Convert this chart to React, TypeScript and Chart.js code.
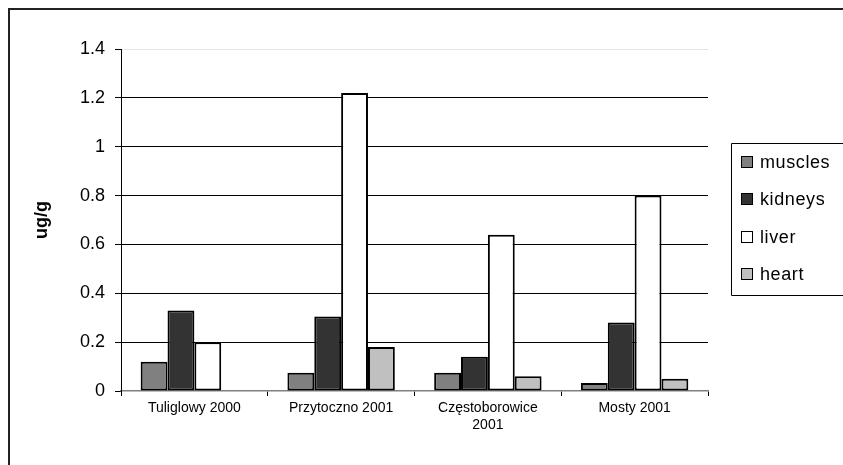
import React, { useEffect, useRef } from "react";
import { Chart, registerables } from "chart.js";

Chart.register(...registerables);

// Sampling sites
const sites: (string | string[])[] = [
  "Tuliglowy 2000",
  "Przytoczno 2001",
  ["Częstoborowice", "2001"],
  "Mosty 2001",
];

// Concentrations per tissue, ug/g
const muscles = [0.12, 0.075, 0.075, 0.033];
const kidneys = [0.33, 0.305, 0.14, 0.28];
const liver = [0.2, 1.22, 0.64, 0.8];
const heart: (number | null)[] = [null, 0.18, 0.06, 0.05];

const seriesNames = ["muscles", "kidneys", "liver", "heart"];
const seriesColors = ["#808080", "#333333", "#ffffff", "#c0c0c0"];

const yTickLabels = ["0", "0.2", "0.4", "0.6", "0.8", "1", "1.2", "1.4"];
const yTitle = "ug/g";

const FONT = "'Liberation Sans', Arial, sans-serif";

// Boxed legend on the right side of the plot
const boxedLegend = {
  id: "boxedLegend",
  afterDraw(chart: any) {
    const ctx = chart.ctx as CanvasRenderingContext2D;
    const left = 721.5;
    const top = 133.5;
    const bottom = 285.5;
    ctx.save();
    ctx.strokeStyle = "#000";
    ctx.lineWidth = 1;
    ctx.beginPath();
    ctx.moveTo(chart.width + 5, top);
    ctx.lineTo(left, top);
    ctx.lineTo(left, bottom);
    ctx.lineTo(chart.width + 5, bottom);
    ctx.stroke();

    ctx.font = `18px ${FONT}`;
    (ctx as any).letterSpacing = "0.6px";
    ctx.textBaseline = "middle";
    ctx.textAlign = "left";
    chart.data.datasets.forEach((ds: any, i: number) => {
      const cy = 152 + i * 37.3;
      ctx.fillStyle = ds.backgroundColor;
      ctx.fillRect(732, Math.round(cy) - 5, 10, 10);
      ctx.strokeStyle = "#000";
      ctx.lineWidth = 1;
      ctx.strokeRect(731.5, Math.round(cy) - 5.5, 11, 11);
      ctx.fillStyle = "#000";
      ctx.fillText(ds.label, 750, cy + 1);
    });
    ctx.restore();
  },
};

export default function App() {
  const canvasRef = useRef<HTMLCanvasElement>(null);

  useEffect(() => {
    if (!canvasRef.current) return;
    const values = [muscles, kidneys, liver, heart];
    const chart = new Chart(canvasRef.current, {
      type: "bar",
      data: {
        labels: sites,
        datasets: seriesNames.map((name, i) => ({
          label: name,
          data: values[i],
          backgroundColor: seriesColors[i],
          borderColor: "#000",
          borderWidth: 2,
          borderSkipped: false,
          categoryPercentage: 0.732,
          barPercentage: 1,
        })),
      },
      options: {
        responsive: false,
        animation: false,
        layout: { padding: { top: 39, right: 137, bottom: 0, left: 0 } },
        plugins: {
          legend: { display: false },
          tooltip: { enabled: false },
        },
        scales: {
          x: {
            offset: true,
            grid: {
              offset: true,
              drawOnChartArea: false,
              drawTicks: true,
              tickLength: 5,
              color: "#000",
            },
            border: { display: true, color: "#808080", width: 1.5 },
            ticks: {
              color: "#000",
              font: { family: FONT, size: 14 },
              maxRotation: 0,
              minRotation: 0,
              autoSkip: false,
              padding: 4,
            },
            afterFit(scale: any) {
              scale.height = 76;
            },
          },
          y: {
            min: 0,
            max: 1.4,
            ticks: {
              stepSize: 0.2,
              color: "#000",
              font: { family: FONT, size: 18 },
              padding: 10,
              callback: (_v: any, idx: number) => yTickLabels[idx],
            },
            grid: {
              color: (c: any) => {
                const v = c.tick ? c.tick.value : 0;
                if (Math.abs(v) < 1e-6) return "rgba(0,0,0,0)";
                if (Math.abs(v - 1.4) < 1e-6) return "#e4e4e4";
                return "#000";
              },
              tickColor: "#000",
              tickLength: 6,
              lineWidth: 1,
            },
            border: { display: true, color: "#000", width: 1 },
            title: {
              display: true,
              text: yTitle,
              color: "#000",
              font: { family: FONT, size: 18, weight: "bold" },
              padding: { top: 21, bottom: 0 },
            },
            afterFit(scale: any) {
              scale.width = 111;
            },
          },
        },
      },
      plugins: [boxedLegend],
    });
    return () => chart.destroy();
  }, []);

  return (
    <div
      style={{
        position: "fixed",
        left: 8,
        top: 8,
        width: 835,
        height: 457,
        borderLeft: "2px solid #222",
        borderTop: "2px solid #222",
        background: "#fff",
        overflow: "hidden",
      }}
    >
      <canvas
        ref={canvasRef}
        width={835}
        height={457}
        style={{ display: "block", width: 835, height: 457 }}
      />
    </div>
  );
}
